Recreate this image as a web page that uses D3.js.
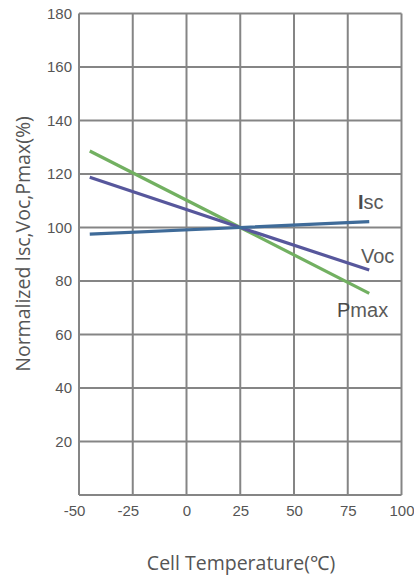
<!DOCTYPE html>
<html>
<head>
<meta charset="utf-8">
<script src="https://cdn.jsdelivr.net/npm/d3@7/dist/d3.min.js"></script>
<style>
  html, body { margin: 0; padding: 0; background: #fff; }
  svg { display: block; }
</style>
</head>
<body>
<svg id="chart" width="414" height="581"></svg>
<script>
// Cell temperature (°C) at which each curve is sampled
const temps = [-45, 25, 85];
// Normalized values (%) relative to 25 °C
const isc = [97.5, 100, 102.2];
const voc = [118.8, 100, 84.1];
const pmax = [128.6, 100, 75.4];

const xTicks = [-50, -25, 0, 25, 50, 75, 100];
const yTicks = [20, 40, 60, 80, 100, 120, 140, 160, 180];

const seriesNames = ["Pmax", "Voc", "Isc"];
const seriesValues = [pmax, voc, isc];
const seriesColors = ["#72b061", "#57579c", "#3f6b99"];

const svg = d3.select("#chart");
const plotLeft = 79, plotRight = 401.5, plotTop = 13.5, plotBottom = 495;

const x = d3.scaleLinear().domain([-50, 100]).range([plotLeft, plotRight]);
const y = d3.scaleLinear().domain([0, 180]).range([plotBottom, plotTop]);

const gridColor = "#858585";

// Vertical grid lines
svg.append("g").selectAll("line").data(xTicks).join("line")
  .attr("x1", d => x(d)).attr("x2", d => x(d))
  .attr("y1", plotTop).attr("y2", plotBottom)
  .attr("stroke", gridColor).attr("stroke-width", 2);

// Horizontal grid lines (including the base line)
svg.append("g").selectAll("line").data([0].concat(yTicks)).join("line")
  .attr("x1", plotLeft).attr("x2", plotRight)
  .attr("y1", d => y(d)).attr("y2", d => y(d))
  .attr("stroke", gridColor).attr("stroke-width", 2);

// Y axis tick labels
const yAxis = d3.axisLeft(y).tickValues(yTicks).tickSize(0).tickPadding(7);
svg.append("g").attr("transform", `translate(${plotLeft},0)`).call(yAxis)
  .call(g => g.select(".domain").remove())
  .call(g => g.selectAll("text")
    .attr("font-family", "'Liberation Sans', Arial, sans-serif")
    .attr("font-size", 15).attr("fill", "#555"));

// X axis tick labels
const xAxis = d3.axisBottom(x).tickValues(xTicks).tickSize(0).tickPadding(10)
  .tickFormat(d => String(d));
svg.append("g").attr("transform", `translate(0,${plotBottom})`).call(xAxis)
  .call(g => g.select(".domain").remove())
  .call(g => g.selectAll("text")
    .attr("dx", d => d < 0 ? -5 : 0)
    .attr("font-family", "'Liberation Sans', Arial, sans-serif")
    .attr("font-size", 15).attr("fill", "#555"));

// Series lines
const line = d3.line().x((d, i) => x(temps[i])).y(d => y(d));
svg.append("g").selectAll("path").data(seriesValues).join("path")
  .attr("d", d => line(d))
  .attr("fill", "none")
  .attr("stroke", (d, i) => seriesColors[i])
  .attr("stroke-width", 3.2);

// Series labels
const labelFont = "'Liberation Sans', Arial, sans-serif";
const labels = [
  { head: "I", tail: "sc", tx: 358, ty: 209 },
  { head: "V", tail: "oc", tx: 361, ty: 263 },
  { head: "P", tail: "max", tx: 337, ty: 317 }
];
const lg = svg.append("g").attr("font-family", labelFont).attr("font-size", 20);
labels.forEach(l => {
  const t = lg.append("text").attr("x", l.tx).attr("y", l.ty).attr("fill", "#5a5a5a");
  t.append("tspan").attr("font-weight", l.head === "I" ? "bold" : "normal")
    .attr("fill", l.head === "V" ? "#5a5a5a" : "#4a4a4a").text(l.head);
  t.append("tspan").text(l.tail);
});

// Axis titles
svg.append("text")
  .attr("x", 241).attr("y", 570)
  .attr("text-anchor", "middle")
  .attr("font-family", "'Open Sans', 'Noto Sans', sans-serif")
  .attr("font-size", 19.5).attr("fill", "#555")
  .text("Cell Temperature(℃)");

svg.append("text")
  .attr("transform", "translate(29.5,244) rotate(-90)")
  .attr("text-anchor", "middle")
  .attr("font-family", "'Open Sans', 'Noto Sans', sans-serif")
  .attr("font-size", 19.5).attr("fill", "#555")
  .text("Normalized Isc,Voc,Pmax(%)");
</script>
</body>
</html>
